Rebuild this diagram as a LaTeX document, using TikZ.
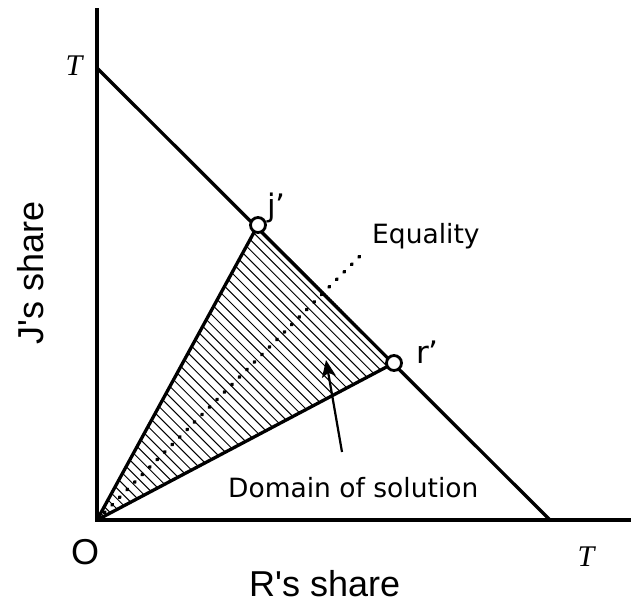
\documentclass[tikz,border=0pt]{standalone}
\usepackage{fontspec}
\setmainfont{DejaVu Sans}
\newfontfamily\axfont{Liberation Sans}
\newfontfamily\tfont{Liberation Serif}
\usetikzlibrary{arrows.meta}

\begin{document}
\begin{tikzpicture}[x=1pt,y=-1pt,
      axis/.style={line width=4pt},
      bd/.style={line width=3.3pt,line join=round},
      hatch/.style={line width=1pt},
      eq/.style={line width=3.6pt,line cap=round,dash pattern=on 1pt off 9.6pt},
      pt/.style={circle,draw,line width=2.8pt,fill=white,inner sep=0pt,minimum size=15pt},
      lab/.style={font=\axfont\fontsize{36}{38}\selectfont,inner sep=0pt},
      txt/.style={font=\fontsize{26.5}{28}\selectfont,inner sep=0pt},
      tl/.style={font=\tfont\itshape\fontsize{30}{32}\selectfont,inner sep=0pt},
      a/.style={-{Stealth[length=17pt,width=14pt,inset=4pt]},line width=2.2pt}]
    \useasboundingbox (0,0) rectangle (631,606);
    \coordinate (O) at (97,520);
    \coordinate (ytop) at (97,8);
    \coordinate (xend) at (631,520);
    \coordinate (ty) at (97,68);
    \coordinate (tx) at (550,520);
    \coordinate (j) at (258,225);
    \coordinate (r) at (394,363);
    \coordinate (eqend) at (363,253);
    % hatched domain
    \begin{scope}
      \clip (O) -- (j) -- (r) -- cycle;
      \foreach \d in {7.3,14.6,...,322}
        \draw[hatch] ([shift={(\d*0.7071-290,-\d*0.7071-290)}]O) -- ++(580,580);
    \end{scope}
    % axes
    \draw[axis] (ytop) -- (O) -- (xend);
    \draw[bd] (ty) -- (tx);
    \draw[bd] (j) -- (O) -- (r);
    \draw[eq] (O) -- (eqend);
    \node[pt] (jpt) at (j) {};
    \node[pt] (rpt) at (r) {};
    % labels
    \node[tl] (tyl) at (74,66) {T};
    \node[tl] (txl) at (586,557) {T};
    \node[lab] (ol) at (85,552) {O};
    \node[lab,anchor=base west] (xl) at (249,596) {R's share};
    \node[lab,rotate=90] (yl) at (31,273) {J's share};
    \node[txt,font=\fontsize{31}{33}\selectfont,anchor=base west] (jl) at (267,216) {j’};
    \node[txt,font=\fontsize{31}{33}\selectfont,anchor=base west] (rl) at (416,363) {r’};
    \node[txt,anchor=base west] (eql) at (372,243) {Equality};
    \node[txt,anchor=base west] (dom) at (228,497) {Domain of solution};
    \coordinate (atail) at (342,452);
    \coordinate (atip) at (326,360);
    \draw[a] (atail) -- (atip);
  \end{tikzpicture}
\end{document}
